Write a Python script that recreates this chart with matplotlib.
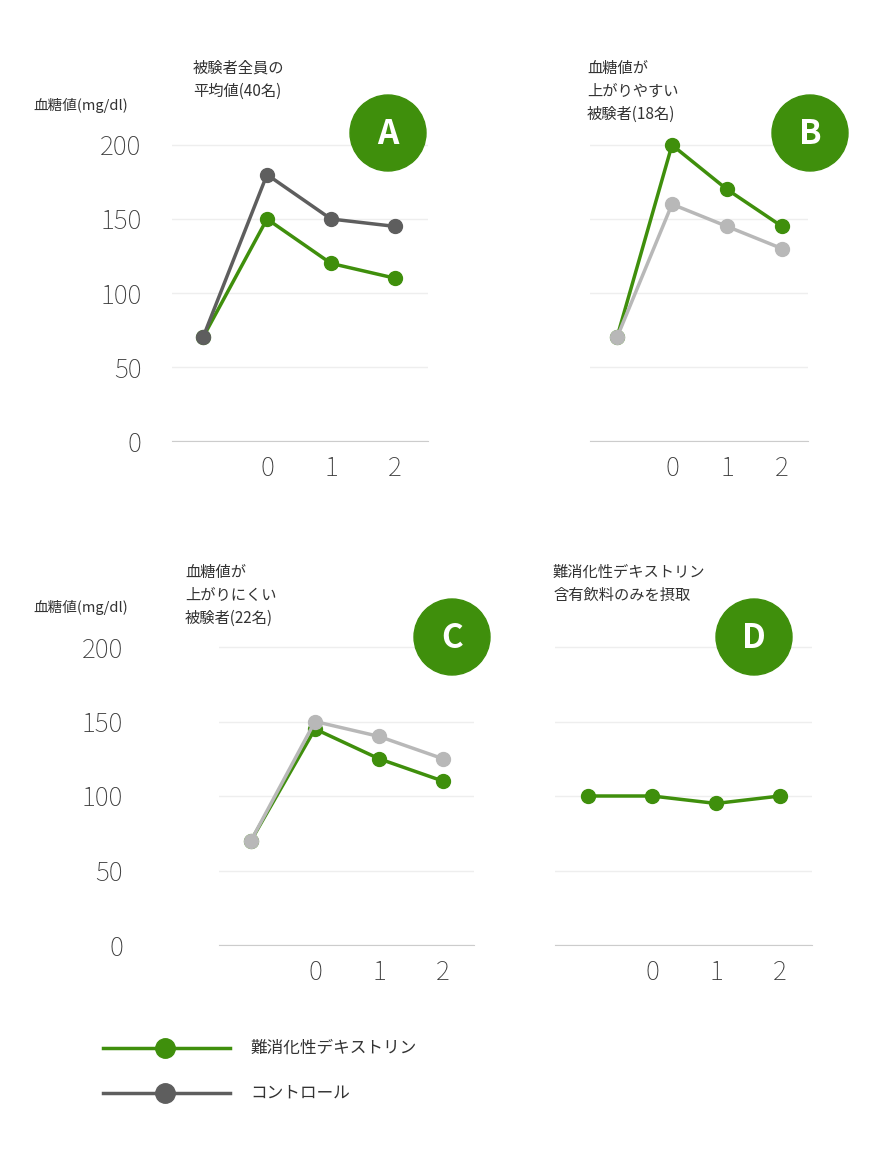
import matplotlib
matplotlib.use("Agg")
import matplotlib.pyplot as plt
from matplotlib.patches import Circle

plt.rcParams["font.family"] = ["Noto Sans CJK JP"]

x_vals = [-1, 0, 1, 2]
xtick_labels = ["0", "1", "2"]
yticks = [0, 50, 100, 150, 200]

a_green = [70, 150, 120, 110]
a_ctrl = [70, 180, 150, 145]
b_green = [70, 200, 170, 145]
b_ctrl = [70, 160, 145, 130]
c_green = [70, 145, 125, 110]
c_ctrl = [70, 150, 140, 125]
d_green = [100, 100, 95, 100]

GREEN = "#3f8f0c"
DARK = "#5e5e5e"
LIGHT = "#b8b8b8"
W, H = 895, 1154

fig = plt.figure(figsize=(W / 100, H / 100), dpi=100)

def make_ax(x0, x1, y0px, y200px, first_px, spacing, show_y):
    ppu = (y0px - y200px) / 200.0
    top = y0px - 220 * ppu
    ax = fig.add_axes([x0 / W, 1 - y0px / H, (x1 - x0) / W, (y0px - top) / H])
    ax.set_ylim(0, 220)
    xmin = -1 - (first_px - x0) / spacing
    xmax = -1 + (x1 - first_px) / spacing
    ax.set_xlim(xmin, xmax)
    for s in ["top", "right", "left"]:
        ax.spines[s].set_visible(False)
    ax.spines["bottom"].set_color("#cccccc")
    ax.set_yticks(yticks)
    ax.yaxis.grid(True, color="#eeeeee", lw=1)
    ax.set_axisbelow(True)
    ax.tick_params(length=0, labelsize=19, colors="#3a3a3a", pad=10)
    ax.set_xticks([0, 1, 2])
    ax.set_xticklabels(xtick_labels, fontweight="light")
    if show_y:
        ax.tick_params(axis="y", pad=ax.get_position().x0 * W - 150)
        for t in ax.get_yticklabels():
            t.set_fontweight("light")
    else:
        ax.set_yticklabels([])
    return ax

def series(ax, vals, color, z):
    ax.plot(x_vals, vals, color=color, lw=2.5, marker="o", ms=10, zorder=z, clip_on=False)

axA = make_ax(172, 428, 441, 145, 203, 64, True)
series(axA, a_green, GREEN, 3); series(axA, a_ctrl, DARK, 4)
axB = make_ax(590, 808, 441, 145, 617, 55, False)
series(axB, b_green, GREEN, 3); series(axB, b_ctrl, LIGHT, 4)
axC = make_ax(219, 474, 945, 647, 251, 64, True)
series(axC, c_green, GREEN, 3); series(axC, c_ctrl, LIGHT, 4)
axD = make_ax(555, 812, 945, 647, 588, 64, False)
series(axD, d_green, GREEN, 4)

ov = fig.add_axes([0, 0, 1, 1])
ov.set_xlim(0, W); ov.set_ylim(H, 0); ov.axis("off"); ov.patch.set_alpha(0)

def txt(x, y, s, size=11):
    ov.text(x, y, s, fontsize=size, color="#333333", va="top", ha="left", linespacing=1.45)

txt(33, 98, "血糖値(mg/dl)", 10.5)
txt(33, 600, "血糖値(mg/dl)", 10.5)
txt(193, 60, "被験者全員の\n平均値(40名)")
txt(587, 60, "血糖値が\n上がりやすい\n被験者(18名)")
txt(185, 564, "血糖値が\n上がりにくい\n被験者(22名)")
txt(553, 564, "難消化性デキストリン\n含有飲料のみを摂取")

for (cx, cy, l) in [(388, 133, "A"), (810, 133, "B"), (452, 637, "C"), (754, 637, "D")]:
    ov.add_patch(Circle((cx, cy), 38, color=GREEN))
    ov.text(cx, cy + 2, l, color="white", fontsize=24, fontweight="bold", ha="center", va="center")

for (y, c, lab) in [(1048, GREEN, "難消化性デキストリン"), (1093, DARK, "コントロール")]:
    ov.plot([103, 230], [y, y], color=c, lw=2.5)
    ov.plot([165], [y], marker="o", ms=14, color=c)
    ov.text(250, y, lab, fontsize=12, color="#333333", va="center")

fig.savefig("out.png", dpi=100)
